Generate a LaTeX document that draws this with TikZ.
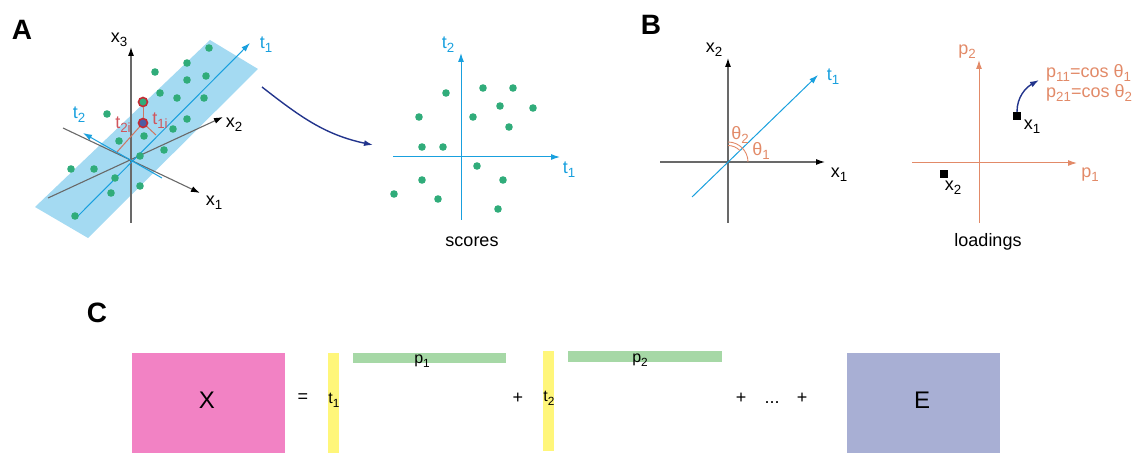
\documentclass[tikz,border=0pt]{standalone}
\usepackage{fontspec}
\setmainfont{Liberation Sans}
\usetikzlibrary{arrows.meta}
\definecolor{band}{RGB}{164,218,242}
\definecolor{tblue}{RGB}{25,160,222}
\definecolor{dotgreen}{RGB}{48,172,122}
\definecolor{axgrey}{RGB}{105,105,105}
\definecolor{orng}{RGB}{226,138,104}
\definecolor{ringred}{RGB}{196,42,52}
\definecolor{projred}{RGB}{206,118,98}
\definecolor{navy}{RGB}{34,52,140}
\definecolor{xpink}{RGB}{242,130,196}
\definecolor{tyel}{RGB}{255,246,122}
\definecolor{pgreen}{RGB}{166,216,166}
\definecolor{epurple}{RGB}{168,175,212}
\newcommand{\lo}[1]{\raisebox{-0.45ex}{\scalebox{0.74}{#1}}}

\begin{document}
\begin{tikzpicture}[x=1pt,y=1pt,>={Latex[length=9pt,width=6pt]},
  lab/.style={font=\fontsize{18}{20}\selectfont,inner sep=0pt},
  small/.style={font=\fontsize{16}{18}\selectfont,inner sep=0pt},
  panel/.style={font=\fontsize{28}{30}\selectfont\bfseries,inner sep=0pt},
  ax/.style={draw=axgrey,line width=1.1pt,-{Latex[length=9pt,width=6pt,color=black]}},
  tax/.style={draw=tblue,line width=1pt,->},
  pax/.style={draw=orng,line width=1pt,->},
  curvarr/.style={draw=navy,line width=1.4pt,->},
  proj/.style={draw=projred,line width=1pt},
  sq/.style={fill=black,minimum size=8pt,inner sep=0pt}]
\useasboundingbox (0,0) rectangle (1141,453);

% ---- A: data in x-space
\node[panel] (A) at (22,423) {A};
\fill[band] (210,413) -- (258,384) -- (88,215) -- (35,246) -- cycle;
\coordinate (O) at (132,293);
\draw[ax] (131,230) -- (131,406);
\draw[ax] (63,325) -- (200,260);
\draw[ax] (48,255) -- (223,336);
\draw[tax] (77,236) -- (250,410);
\draw[tax] (162,275) -- (83,320);
\node[lab] (x3) at (119,413) {x\lo{3}};
\node[lab] (x1) at (214,250) {x\lo{1}};
\node[lab] (x2) at (234,328) {x\lo{2}};
\node[lab,tblue] (t1a) at (266,408) {t\lo{1}};
\node[lab,tblue] (t2a) at (79,338) {t\lo{2}};
\foreach \p in {(209,405),(187,390),(155,381),(187,373),(206,377),(160,360),(177,355),
  (204,355),(107,339),(187,334),(173,324),(144,317),(119,312),(164,303),(140,297),
  (71,284),(94,284),(115,275),(140,267),(111,260),(75,237)}
  \fill[dotgreen] \p circle (3.8);
% projection of one sample
\coordinate (F1) at (156,318);
\coordinate (F2) at (117,301);
\node[circle,draw=ringred,fill=dotgreen,line width=1.6pt,minimum size=9pt,inner sep=0pt] (Pi) at (143,351) {};
\node[circle,draw=ringred,fill=navy!80,line width=1.6pt,minimum size=9pt,inner sep=0pt] (Qi) at (143,330) {};
\draw[proj] (Pi) -- (Qi);
\draw[proj] (Qi) -- (F1);
\draw[proj] (Qi) -- (F2);
\node[lab,ringred!80] (t2i) at (123,328) {t\lo{2i}};
\node[lab,ringred!80] (t1i) at (160,332) {t\lo{1i}};

% ---- A: scores
\coordinate (arrA) at (262,366);
\coordinate (arrB) at (373,308);
\draw[curvarr] (arrA) to[out=-38,in=168] (arrB);
\draw[tax] (461,233) -- (461,400);
\draw[tax] (393,296) -- (560,296);
\node[lab,tblue] (t2s) at (448,408) {t\lo{2}};
\node[lab,tblue] (t1s) at (569,283) {t\lo{1}};
\foreach \p in {(446,360),(483,365),(513,365),(500,347),(533,345),(419,336),(473,336),
  (509,326),(422,306),(443,306),(477,287),(422,273),(503,273),(394,259),(438,254),(498,244)}
  \fill[dotgreen] \p circle (3.8);
\node[lab] (scores) at (472,211) {scores};

% ---- B: angles
\node[panel] (B) at (651,428) {B};
\coordinate (OB) at (728,291);
\draw[ax] (728,230) -- (728,395);
\draw[ax] (660,291) -- (825,291);
\draw[tax] (692,256) -- (818,378);
\draw[orng,line width=0.9pt] ([shift={(20,0)}]OB) arc (0:90:20);
\draw[orng,line width=0.9pt] ([shift={(44:16.5)}]OB) arc (44:90:16.5);
\node[lab] (x2b) at (714,403) {x\lo{2}};
\node[lab] (x1b) at (839,278) {x\lo{1}};
\node[lab,tblue] (t1b) at (833,376) {t\lo{1}};
\node[lab,orng] (th2) at (740,318) {θ\lo{2}};
\node[lab,orng] (th1) at (761,302) {θ\lo{1}};

% ---- B: loadings
\draw[pax] (979,230) -- (979,393);
\draw[pax] (912,290) -- (1077,290);
\node[lab,orng] (p2) at (967,401) {p\lo{2}};
\node[lab,orng] (p1) at (1090,278) {p\lo{1}};
\node[sq] (sx1) at (1017,337) {};
\node[sq] (sx2) at (944,279) {};
\node[lab] (lx1) at (1032,326) {x\lo{1}};
\node[lab] (lx2) at (953,265) {x\lo{2}};
\coordinate (cosA) at (1039,373);
\draw[curvarr] (sx1.north) to[out=90,in=210] (cosA);
\node[lab,orng,anchor=west] (p11) at (1046,380) {p\lo{11}=cos θ\lo{1}};
\node[lab,orng,anchor=west] (p21) at (1046,360) {p\lo{21}=cos θ\lo{2}};
\node[lab] (loadings) at (988,211) {loadings};

% ---- C: decomposition
\node[panel] (C) at (97,140) {C};
\fill[xpink] (132,0) rectangle (285,100);
\node[font=\fontsize{24}{26}\selectfont,inner sep=0pt] (X) at (207,53) {X};
\node[lab] (eq) at (303,55) {=};
\fill[tyel] (328,0) rectangle (339,100);
\node[small] (t1c) at (334,53) {t\lo{1}};
\fill[pgreen] (353,90) rectangle (506,100);
\node[small] (p1c) at (422,92) {p\lo{1}};
\node[lab] (plus1) at (518,55) {+};
\fill[tyel] (543,2) rectangle (554,102);
\node[small] (t2c) at (549,55) {t\lo{2}};
\fill[pgreen] (568,91) rectangle (722,102);
\node[small] (p2c) at (640,93) {p\lo{2}};
\node[lab] (plus2) at (741,55) {+};
\node[lab] (dots) at (772,50) {...};
\node[lab] (plus3) at (802,55) {+};
\fill[epurple] (847,0) rectangle (1000,100);
\node[font=\fontsize{24}{26}\selectfont,inner sep=0pt] (E) at (922,53) {E};
\end{tikzpicture}
\end{document}
